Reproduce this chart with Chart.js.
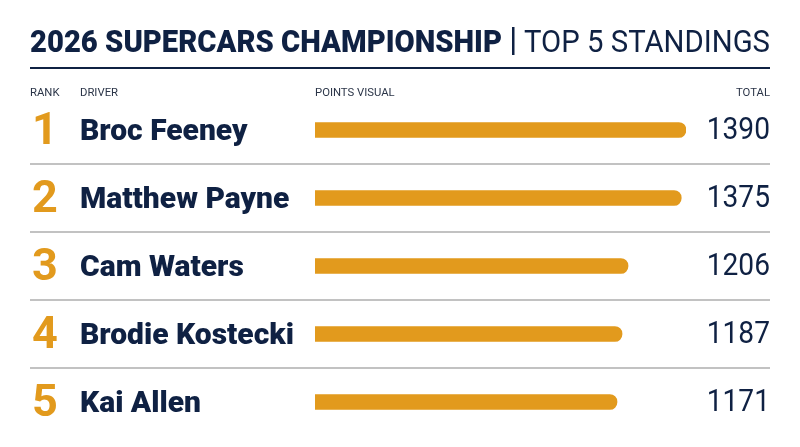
<!DOCTYPE html>
<html lang="en">
<head>
    <meta charset="UTF-8">
    <title>2026 Supercars Championship - Top 5</title>
    <script src="https://cdn.jsdelivr.net/npm/chart.js"></script>
    <style>
        body {
            margin: 0;
            background: #ffffff;
        }

        .chart-container {
            position: relative;
            width: 800px;
            height: 447px;
        }
    </style>
</head>
<body>
    <div class="chart-container">
        <canvas id="standingsChart" width="800" height="447"></canvas>
    </div>

    <script>
        const ranks = ['1', '2', '3', '4', '5'];
        const drivers = ['Broc Feeney', 'Matthew Payne', 'Cam Waters', 'Brodie Kostecki', 'Kai Allen'];
        const points = [1390, 1375, 1206, 1187, 1171];
        const columnHeaders = ['RANK', 'DRIVER', 'POINTS VISUAL', 'TOTAL'];

        const navy = '#0f2143';
        const orange = '#e29a1d';
        const font = 'Roboto, "Liberation Sans", sans-serif';

        // draw text squeezed horizontally (the reference face is narrower than Roboto)
        function squeezed(ctx, text, x, y, sx) {
            ctx.save();
            ctx.translate(x, y);
            ctx.scale(sx, 1);
            ctx.fillText(text, 0, 0);
            ctx.restore();
        }

        // Title, headers, rank numbers, names and totals drawn around the bars
        const tablePlugin = {
            id: 'tableText',
            afterDraw(chart) {
                const ctx = chart.ctx;
                const yScale = chart.scales.y;
                const left = 30, right = 770;
                ctx.save();

                // title
                ctx.textBaseline = 'alphabetic';
                ctx.textAlign = 'left';
                ctx.fillStyle = navy;
                ctx.font = `900 32px ${font}`;
                const boldPart = '2026 SUPERCARS CHAMPIONSHIP';
                const bw = ctx.measureText(boldPart).width;
                squeezed(ctx, boldPart, left, 52, 472 / bw);
                ctx.fillRect(512, 27, 2.5, 28);
                ctx.font = `32px ${font}`;
                const lightPart = 'TOP 5 STANDINGS';
                const lw = ctx.measureText(lightPart).width;
                squeezed(ctx, lightPart, 524, 52, 246 / lw);

                ctx.fillRect(left, 67, right - left, 2);

                // column headers
                ctx.font = `11.3px ${font}`;
                ctx.fillStyle = '#2b3548';
                ctx.fillText(columnHeaders[0], left, 96);
                ctx.fillText(columnHeaders[1], 80, 96);
                ctx.fillText(columnHeaders[2], 315, 96);
                ctx.textAlign = 'right';
                ctx.fillText(columnHeaders[3], right, 96);

                ranks.forEach((r, i) => {
                    const y = yScale.getPixelForValue(i);
                    ctx.textBaseline = 'middle';
                    ctx.textAlign = 'left';
                    ctx.fillStyle = orange;
                    ctx.font = `bold 45px ${font}`;
                    ctx.fillText(r, 32, y + 3);

                    ctx.fillStyle = navy;
                    ctx.font = `900 30px ${font}`;
                    ctx.fillText(drivers[i], 80, y + 2);

                    ctx.textAlign = 'right';
                    ctx.font = `32px ${font}`;
                    squeezed(ctx, String(points[i]), right, y + 1, 0.88);

                    if (i < ranks.length - 1) {
                        ctx.fillStyle = '#c2c2c2';
                        ctx.fillRect(left, y + 33, right - left, 2);
                    }
                });
                ctx.restore();
            }
        };

        const ctx = document.getElementById('standingsChart').getContext('2d');
        new Chart(ctx, {
            type: 'bar',
            data: {
                labels: drivers,
                datasets: [{
                    data: points,
                    backgroundColor: orange,
                    borderRadius: 8,
                    borderSkipped: false,
                    barThickness: 15
                }]
            },
            options: {
                indexAxis: 'y',
                responsive: false,
                animation: false,
                layout: {
                    padding: { left: 315, right: 114, top: 96, bottom: 11 }
                },
                scales: {
                    x: { display: false, min: 212, max: 1390 },
                    y: { display: false }
                },
                plugins: {
                    legend: { display: false },
                    tooltip: { enabled: false }
                }
            },
            plugins: [tablePlugin]
        });
    </script>
</body>
</html>
